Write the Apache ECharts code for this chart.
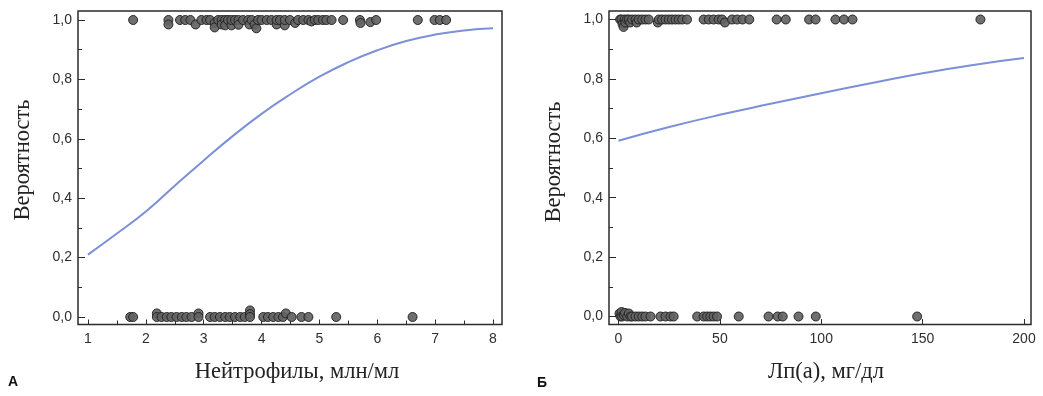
<!DOCTYPE html>
<html><head><meta charset="utf-8">
<script src="https://cdn.jsdelivr.net/npm/echarts@6/dist/echarts.min.js"></script>
<style>html,body{margin:0;padding:0;background:#fff}#c{width:1043px;height:396px}</style>
</head><body><div id="c"></div>
<script>
// Panel A: neutrophils (x) vs outcome (0/1, slight vertical jitter as drawn)
const neutroYes = [[1.78,1],[2.39,1],[2.39,0.985],[2.59,1],[2.68,1],[2.77,1],[2.86,0.985],[2.96,1],[3.05,1],[3.11,1],[3.19,0.99],[3.19,0.975],[3.25,1],[3.31,1],[3.31,0.985],[3.37,1],[3.37,0.982],[3.42,1],[3.48,0.982],[3.48,1],[3.54,1],[3.60,1],[3.60,0.984],[3.68,1],[3.77,1],[3.79,0.985],[3.83,1],[3.88,0.985],[3.91,0.972],[3.94,1],[4.00,1],[4.09,1],[4.17,1],[4.26,0.985],[4.26,1],[4.32,1],[4.40,0.982],[4.40,1],[4.49,1],[4.58,0.99],[4.63,1],[4.72,1],[4.81,1],[4.86,0.995],[4.92,1],[4.98,1],[5.06,1],[5.12,1],[5.21,1],[5.41,1],[5.70,1],[5.71,0.99],[5.88,0.993],[5.98,1],[6.70,1],[6.99,1],[7.08,1],[7.19,1]];
const neutroNo = [[1.73,0],[1.78,0],[2.19,0.012],[2.19,0],[2.27,0],[2.36,0],[2.44,0],[2.53,0],[2.62,0],[2.70,0],[2.79,0],[2.91,0.012],[2.91,0],[3.11,0],[3.19,0],[3.28,0],[3.37,0],[3.45,0],[3.54,0],[3.63,0],[3.71,0],[3.80,0.022],[3.80,0.01],[3.80,0],[4.03,0],[4.11,0],[4.20,0],[4.29,0],[4.37,0],[4.42,0.012],[4.52,0],[4.69,0],[4.81,0],[5.29,0],[6.61,0]];
const neutroCurveX = [1,1.5,2,2.5,3,3.5,4,4.5,5,5.5,6,6.5,7,7.5,8];
const neutroCurveY = [0.21,0.281,0.355,0.442,0.527,0.609,0.684,0.75,0.809,0.858,0.898,0.929,0.951,0.965,0.972];

// Panel Б: Lp(a) (x) vs outcome
const lpYes = [[0.8,1],[1.5,1],[2.0,0.985],[2.5,0.975],[3.0,1],[3.4,0.99],[4.2,1],[5.1,1],[5.8,0.99],[6.7,1],[8.4,1],[9.0,0.99],[10.0,1],[11.7,1],[13.3,1],[14.9,1],[19.4,0.99],[19.9,1],[21.5,1],[23.2,1],[24.8,1],[26.4,1],[28.1,1],[29.7,1],[31.4,1],[33.8,1],[42.0,1],[44.5,1],[46.9,1],[49.4,1],[51.1,1],[52.5,0.99],[56.0,1],[58.5,1],[61.2,1],[64.5,1],[78.0,1],[82.5,1],[94.0,1],[97.2,1],[107.0,1],[111.2,1],[115.4,1],[178.5,1]];
const lpNo = [[0.5,0.01],[1.0,0],[1.5,0.015],[1.8,0],[2.6,0.005],[3.2,0.012],[4.3,0],[5.1,0.01],[5.9,0],[6.7,0],[8.4,0],[10.0,0],[11.7,0],[13.3,0],[15.8,0],[20.7,0],[23.2,0],[25.6,0],[27.2,0],[38.8,0],[42.0,0],[43.7,0],[45.3,0],[46.9,0],[48.6,0],[59.3,0],[74.0,0],[78.5,0],[81.0,0],[88.8,0],[97.3,0],[147.3,0]];
const lpCurveX = [0,25,50,75,100,125,150,175,200];
const lpCurveY = [0.592,0.638,0.679,0.716,0.752,0.786,0.819,0.847,0.870];

const yTickLabels = {'0':'0,0','0.2':'0,2','0.4':'0,4','0.6':'0,6','0.8':'0,8','1':'1,0'};
const yName = 'Вероятность';
const xNameA = 'Нейтрофилы, млн/мл';
const xNameB = 'Лп(а), мг/дл';
const panelA = 'А', panelB = 'Б';

const zip = (xs, ys) => xs.map((x, i) => [x, ys[i]]);
const INK = '#2b2b2b';
const LBL = {color:'#2e2e2e', fontSize:14, fontFamily:'Liberation Sans, Arial, sans-serif'};
const NAMEFONT = '22.5px "Liberation Serif", "Times New Roman", serif';

function frameAxes(gi){
  return {x:{gridIndex:gi, type:'value', show:false, min:0, max:1},
          y:{gridIndex:gi, type:'value', show:false, min:0, max:1}};
}
function dataX(gi, min, max, interval, minor){
  return {gridIndex:gi, type:'value', min, max, interval, offset:7.5,
    axisLine:{show:false, onZero:false}, splitLine:{show:false},
    axisTick:{show:true, inside:true, length:5, lineStyle:{color:INK, width:1}},
    minorTick:{show:minor, splitNumber:2, length:4, lineStyle:{color:INK, width:1}},
    axisLabel:Object.assign({margin:8, showMinLabel:true, showMaxLabel:true}, LBL)};
}
function dataY(gi, offset){
  return {gridIndex:gi, type:'value', min:0, max:1, interval:0.2, offset,
    axisLine:{show:false, onZero:false}, splitLine:{show:false},
    axisTick:{show:true, inside:true, length:7, lineStyle:{color:INK, width:1}},
    minorTick:{show:true, splitNumber:2, length:4, lineStyle:{color:INK, width:1}},
    axisLabel:Object.assign({margin:6, formatter:v => yTickLabels[String(+v.toFixed(1))]}, LBL)};
}
const dot = {symbol:'circle', symbolSize:9, clip:false,
  itemStyle:{color:'#636363', borderColor:'#1e1e1e', borderWidth:1, opacity:0.92}};
const curve = {type:'line', smooth:true, showSymbol:false, symbol:'none',
  lineStyle:{color:'#7b90d8', width:2}, z:3};

const fA = frameAxes(0), fB = frameAxes(2);
const option = {
  animation:false,
  grid:[
    {left:78, top:11, width:424, height:313.5, show:true, borderColor:INK, borderWidth:1.5},
    {left:88, top:20, width:405, height:297},
    {left:609, top:11, width:422, height:313.5, show:true, borderColor:INK, borderWidth:1.5},
    {left:618.5, top:19.5, width:405.5, height:297}
  ],
  xAxis:[fA.x, dataX(1,1,8,1,true), fB.x, dataX(3,0,200,50,false)],
  yAxis:[fA.y, dataY(1,10), fB.y, dataY(3,9.5)],
  series:[
    Object.assign({type:'scatter', xAxisIndex:1, yAxisIndex:1, data:neutroYes}, dot),
    Object.assign({type:'scatter', xAxisIndex:1, yAxisIndex:1, data:neutroNo}, dot),
    Object.assign({xAxisIndex:1, yAxisIndex:1, data:zip(neutroCurveX, neutroCurveY)}, curve),
    Object.assign({type:'scatter', xAxisIndex:3, yAxisIndex:3, data:lpYes}, dot),
    Object.assign({type:'scatter', xAxisIndex:3, yAxisIndex:3, data:lpNo}, dot),
    Object.assign({xAxisIndex:3, yAxisIndex:3, data:zip(lpCurveX, lpCurveY)}, curve)
  ],
  graphic:[
    {type:'text', x:23, y:160, rotation:Math.PI/2, style:{text:yName, align:'center', verticalAlign:'middle', fill:'#222', font:NAMEFONT}},
    {type:'text', x:554, y:162, rotation:Math.PI/2, style:{text:yName, align:'center', verticalAlign:'middle', fill:'#222', font:NAMEFONT}},
    {type:'text', x:297, y:372, style:{text:xNameA, align:'center', verticalAlign:'middle', fill:'#222', font:NAMEFONT}},
    {type:'text', x:826, y:372, style:{text:xNameB, align:'center', verticalAlign:'middle', fill:'#222', font:NAMEFONT}},
    {type:'text', x:13, y:382, style:{text:panelA, align:'center', verticalAlign:'middle', fill:'#111', font:'bold 14px "Liberation Sans", Arial, sans-serif'}},
    {type:'text', x:542, y:383, style:{text:panelB, align:'center', verticalAlign:'middle', fill:'#111', font:'bold 14px "Liberation Sans", Arial, sans-serif'}}
  ]
};
echarts.init(document.getElementById('c'), null, {renderer:'canvas'}).setOption(option);
</script></body></html>
